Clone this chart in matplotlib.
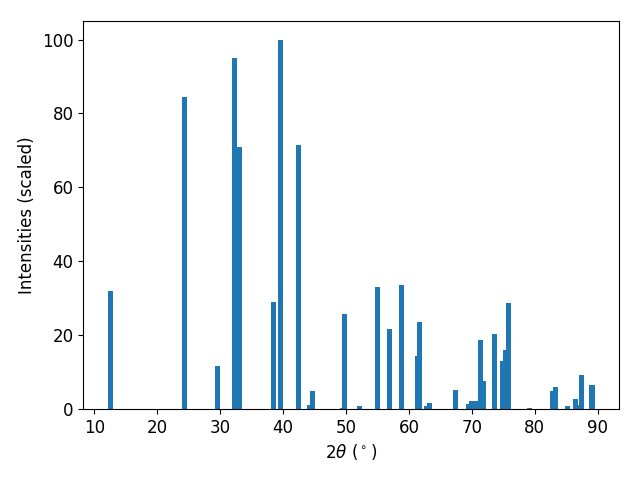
import matplotlib
matplotlib.use("Agg")
import matplotlib.pyplot as plt

# peak positions (2 theta, degrees) and scaled intensities
two_theta = [12.5, 24.4, 29.65, 32.35, 33.1, 38.55, 39.55, 42.5, 44.25, 44.6,
             49.4, 49.75, 52.2, 55.0, 56.9, 58.8, 61.3, 61.75, 62.8, 63.2,
             67.4, 69.45, 70.0, 70.55, 71.45, 71.9, 73.6, 74.8, 75.3, 75.9,
             79.2, 82.8, 83.3, 85.2, 87.0, 86.5, 87.5, 89.1]
intensity = [32.0, 84.5, 11.7, 94.9, 71.0, 29.0, 100.0, 71.5, 1.1, 4.9,
             0.3, 25.7, 0.8, 33.0, 21.7, 33.6, 14.4, 23.6, 0.8, 1.6,
             5.1, 1.35, 2.2, 2.2, 18.7, 7.6, 20.3, 13.0, 16.0, 28.7,
             0.3, 4.9, 6.0, 0.8, 1.1, 2.7, 9.2, 6.5]

plt.rcParams['font.size'] = 12

fig, ax = plt.subplots(figsize=(6.4, 4.8), dpi=100)
ax.bar(two_theta, intensity, width=0.8, color='#1f77b4')
ax.set_xlabel(r'$2\theta$ ($^\circ$)')
ax.set_ylabel('Intensities (scaled)')
plt.subplots_adjust(left=0.13, right=0.967, top=0.956, bottom=0.148)
fig.savefig('out.png')
